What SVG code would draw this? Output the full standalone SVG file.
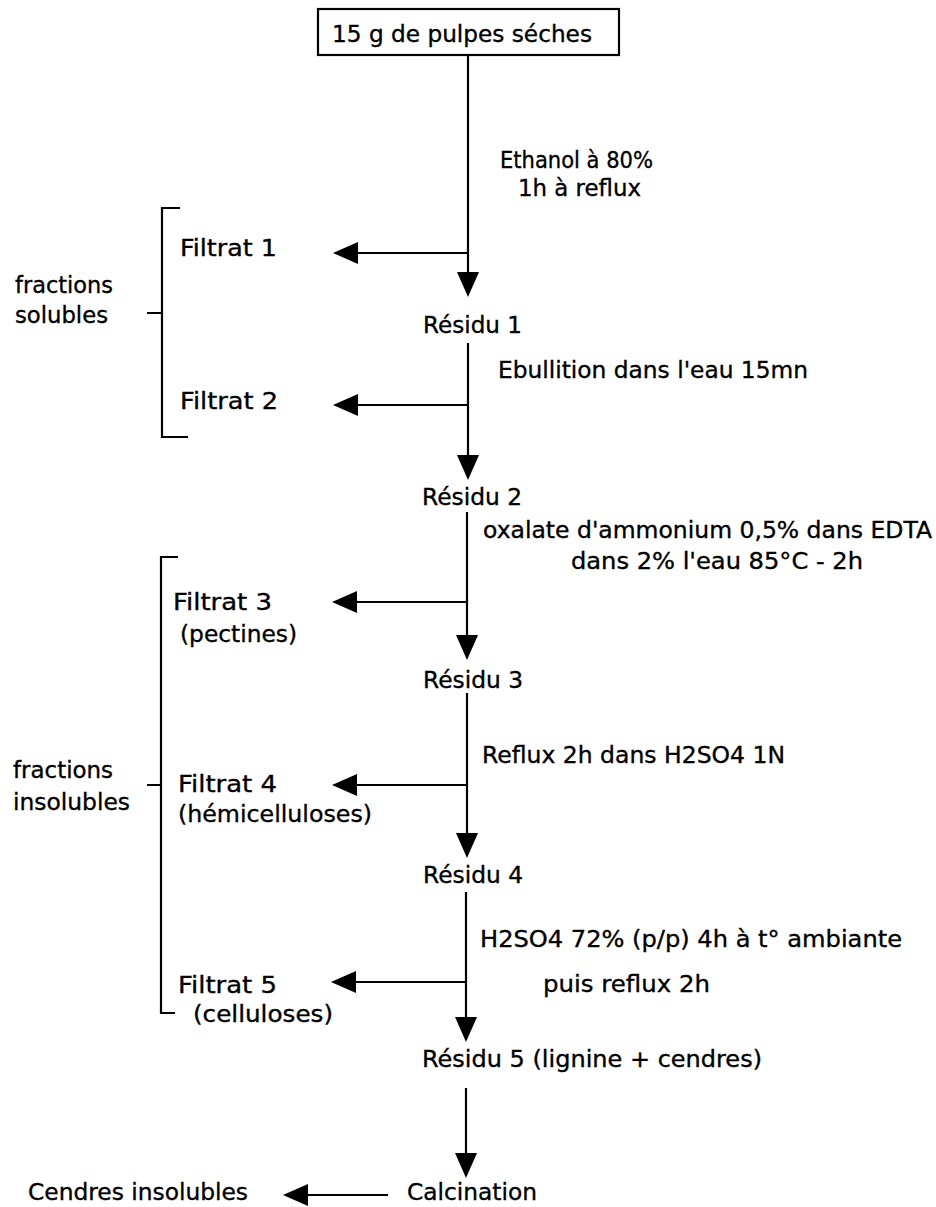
<svg xmlns="http://www.w3.org/2000/svg" width="936" height="1207" viewBox="0 0 936 1207">
<defs>
<style>
text{font-family:"DejaVu Sans","Liberation Sans",sans-serif;font-size:23px;fill:#000;stroke:#000;stroke-width:0.35}
.ln{stroke:#000;stroke-width:2.2;fill:none}
.br{stroke:#000;stroke-width:2.2;fill:none}
</style>
<marker id="ah" markerUnits="userSpaceOnUse" markerWidth="26" markerHeight="24" refX="15" refY="11" orient="auto" viewBox="0 0 26 24">
<path d="M0,0 L25,11 L0,22 z" fill="#000"/>
</marker>
</defs>
<rect width="936" height="1207" fill="#fff"/>

<g id="connectors">
<line class="ln" x1="468" y1="55" x2="468" y2="287" marker-end="url(#ah)"/>
<line class="ln" x1="468" y1="253" x2="343" y2="253" marker-end="url(#ah)"/>
<line class="ln" x1="468" y1="343" x2="468" y2="470" marker-end="url(#ah)"/>
<line class="ln" x1="468" y1="405" x2="343" y2="405" marker-end="url(#ah)"/>
<line class="ln" x1="467" y1="512" x2="467" y2="650" marker-end="url(#ah)"/>
<line class="ln" x1="467" y1="602" x2="342" y2="602" marker-end="url(#ah)"/>
<line class="ln" x1="467" y1="693" x2="467" y2="848" marker-end="url(#ah)"/>
<line class="ln" x1="467" y1="785" x2="342" y2="785" marker-end="url(#ah)"/>
<line class="ln" x1="466" y1="892" x2="466" y2="1032" marker-end="url(#ah)"/>
<line class="ln" x1="466" y1="982" x2="341" y2="982" marker-end="url(#ah)"/>
<line class="ln" x1="466" y1="1088" x2="466" y2="1168" marker-end="url(#ah)"/>
<line class="ln" x1="388" y1="1195" x2="293" y2="1195" marker-end="url(#ah)"/>
</g>

<g id="start">
<rect x="318" y="9" width="301" height="46" fill="#fff" stroke="#000" stroke-width="2.2"/>
<text x="332" y="42" textLength="260" lengthAdjust="spacingAndGlyphs">15 g de pulpes séches</text>
</g>
<g id="step1">
<text x="500" y="168" textLength="153" lengthAdjust="spacingAndGlyphs">Ethanol à 80%</text>
<text x="518" y="196" textLength="123" lengthAdjust="spacingAndGlyphs">1h à reflux</text>
</g>
<g id="filtrat1"><text x="180" y="256" textLength="97" lengthAdjust="spacingAndGlyphs">Filtrat  1</text></g>
<g id="residu1"><text x="423" y="333" textLength="99" lengthAdjust="spacingAndGlyphs">Résidu  1</text></g>
<g id="step2"><text x="498" y="378" textLength="310" lengthAdjust="spacingAndGlyphs">Ebullition dans l'eau 15mn</text></g>
<g id="filtrat2"><text x="180" y="409" textLength="98" lengthAdjust="spacingAndGlyphs">Filtrat  2</text></g>
<g id="residu2"><text x="422" y="505" textLength="100" lengthAdjust="spacingAndGlyphs">Résidu  2</text></g>
<g id="step3">
<text x="483" y="538" textLength="449" lengthAdjust="spacingAndGlyphs">oxalate d'ammonium 0,5% dans  EDTA</text>
<text x="571" y="569" textLength="292" lengthAdjust="spacingAndGlyphs">dans 2% l'eau  85°C - 2h</text>
</g>
<g id="filtrat3">
<text x="173" y="610" textLength="99" lengthAdjust="spacingAndGlyphs">Filtrat  3</text>
<text x="180" y="642" textLength="117" lengthAdjust="spacingAndGlyphs">(pectines)</text>
</g>
<g id="residu3"><text x="423" y="688" textLength="100" lengthAdjust="spacingAndGlyphs">Résidu  3</text></g>
<g id="step4"><text x="482" y="763" textLength="303" lengthAdjust="spacingAndGlyphs">Reflux 2h dans H2SO4  1N</text></g>
<g id="filtrat4">
<text x="178" y="792" textLength="99" lengthAdjust="spacingAndGlyphs">Filtrat  4</text>
<text x="178" y="822" textLength="194" lengthAdjust="spacingAndGlyphs">(hémicelluloses)</text>
</g>
<g id="residu4"><text x="423" y="883" textLength="100" lengthAdjust="spacingAndGlyphs">Résidu  4</text></g>
<g id="step5">
<text x="480" y="947" textLength="422" lengthAdjust="spacingAndGlyphs">H2SO4 72% (p/p) 4h à t° ambiante</text>
<text x="543" y="992" textLength="167" lengthAdjust="spacingAndGlyphs">puis  reflux  2h</text>
</g>
<g id="filtrat5">
<text x="178" y="993" textLength="99" lengthAdjust="spacingAndGlyphs">Filtrat  5</text>
<text x="193" y="1022" textLength="140" lengthAdjust="spacingAndGlyphs">(celluloses)</text>
</g>
<g id="residu5"><text x="422" y="1067" textLength="340" lengthAdjust="spacingAndGlyphs">Résidu  5   (lignine + cendres)</text></g>
<g id="calcination"><text x="407" y="1200" textLength="130" lengthAdjust="spacingAndGlyphs">Calcination</text></g>
<g id="cendres"><text x="28" y="1200" textLength="220" lengthAdjust="spacingAndGlyphs">Cendres  insolubles</text></g>

<g id="bracket-solubles">
<path class="br" d="M180,208 H162 V437 H188 M147,313 H162"/>
<text x="15" y="293" textLength="98" lengthAdjust="spacingAndGlyphs">fractions</text>
<text x="15" y="323" textLength="93" lengthAdjust="spacingAndGlyphs">solubles</text>
</g>
<g id="bracket-insolubles">
<path class="br" d="M178,557 H161 V1013 H175 M147,785 H161"/>
<text x="13" y="778" textLength="100" lengthAdjust="spacingAndGlyphs">fractions</text>
<text x="13" y="810" textLength="117" lengthAdjust="spacingAndGlyphs">insolubles</text>
</g>
</svg>
